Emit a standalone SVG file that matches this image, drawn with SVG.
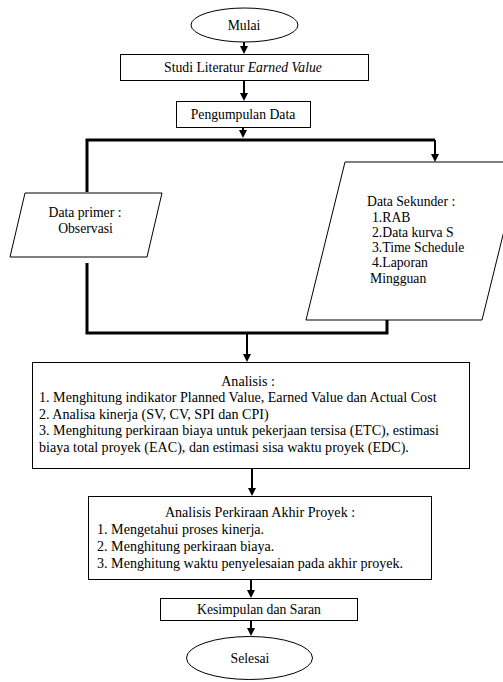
<svg xmlns="http://www.w3.org/2000/svg" width="503" height="682" viewBox="0 0 503 682">
<defs>
<marker id="ah" markerWidth="8" markerHeight="8" refX="4" refY="4" orient="auto" markerUnits="userSpaceOnUse">
<path d="M0,0 L8,4 L0,8 z" fill="#000"/>
</marker>
<style>
.s{fill:#fff;stroke:#000;stroke-width:1}
.t{font-family:"Liberation Serif","Times New Roman",serif;font-size:13.7px;fill:#000}
.b{font-size:14.1px}
.c{text-anchor:middle}
.ln{fill:none;stroke:#000;stroke-width:3}
.ar{fill:none;stroke:#000;stroke-width:2;marker-end:url(#ah)}
</style>
</defs>
<rect width="503" height="682" fill="#fff"/>
<g id="connectors">
<line class="ar" x1="244" y1="42" x2="244" y2="50"/>
<line class="ar" x1="244" y1="80" x2="244" y2="97"/>
<line class="ar" x1="243" y1="128" x2="243" y2="134"/>
<polyline class="ln" points="87,192 87,140 435,140"/>
<line class="ar" x1="435" y1="140" x2="435" y2="158"/>
<polyline class="ln" points="87,263 87,333 387,333 387,320"/>
<line class="ar" x1="247" y1="333" x2="247" y2="358"/>
<line class="ar" x1="252" y1="469" x2="252" y2="492"/>
<line class="ar" x1="251" y1="580" x2="251" y2="594"/>
<line class="ar" x1="251" y1="620" x2="251" y2="632"/>
</g>
<g id="mulai">
<ellipse class="s" cx="244.5" cy="25" rx="53.5" ry="17"/>
<text class="t c" x="244" y="29.5">Mulai</text>
</g>
<g id="studi">
<rect class="s" x="120.5" y="54.5" width="248" height="26"/>
<text class="t c" x="243" y="72">Studi Literatur <tspan font-style="italic">Earned Value</tspan></text>
</g>
<g id="pengumpulan">
<rect class="s" x="176.5" y="101.5" width="134" height="26"/>
<text class="t c" x="243" y="119">Pengumpulan Data</text>
</g>
<g id="primer">
<polygon class="s" points="25,193 162,193 147,257 10,257"/>
<text class="t c" x="85" y="217">Data primer :</text>
<text class="t c" x="85.5" y="233">Observasi</text>
</g>
<g id="sekunder">
<polygon class="s" points="345,162 521,162 482,320 306,320"/>
<text class="t" x="367" y="206">Data Sekunder :</text>
<text class="t" x="372" y="222">1.RAB</text>
<text class="t" x="372" y="237">2.Data kurva S</text>
<text class="t" x="372" y="252">3.Time Schedule</text>
<text class="t" x="372" y="267">4.Laporan</text>
<text class="t" x="370" y="283">Mingguan</text>
</g>
<g id="analisis">
<rect class="s" x="32.5" y="362.5" width="437" height="106"/>
<text class="t b c" x="248" y="386">Analisis :</text>
<text class="t b" x="39" y="402">1. Menghitung indikator Planned Value, Earned Value dan Actual Cost</text>
<text class="t b" x="39" y="419">2. Analisa kinerja (SV, CV, SPI dan CPI)</text>
<text class="t b" x="39" y="435">3. Menghitung perkiraan biaya untuk pekerjaan tersisa (ETC), estimasi</text>
<text class="t b" x="39" y="452">biaya total proyek (EAC), dan estimasi sisa waktu proyek (EDC).</text>
</g>
<g id="akhir">
<rect class="s" x="88.5" y="496.5" width="343" height="83"/>
<text class="t b c" x="260" y="517">Analisis Perkiraan Akhir Proyek :</text>
<text class="t b" x="97" y="534">1. Mengetahui proses kinerja.</text>
<text class="t b" x="97" y="551">2. Menghitung perkiraan biaya.</text>
<text class="t b" x="97" y="568">3. Menghitung waktu penyelesaian pada akhir proyek.</text>
</g>
<g id="kesimpulan">
<rect class="s" x="160.5" y="598.5" width="197" height="22"/>
<text class="t c" x="259" y="614">Kesimpulan dan Saran</text>
</g>
<g id="selesai">
<ellipse class="s" cx="249.5" cy="658" rx="63" ry="21.5"/>
<text class="t c" x="250" y="662.5">Selesai</text>
</g>
</svg>
